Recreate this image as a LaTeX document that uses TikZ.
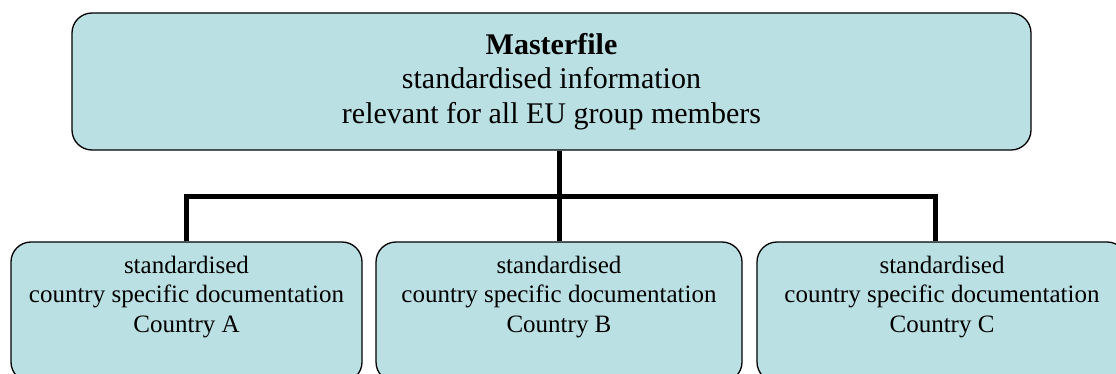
\documentclass[tikz,border=0pt]{standalone}
\usepackage{fontspec}
\setmainfont{Liberation Serif}
\usepackage{tikz}
\usetikzlibrary{arrows,shapes}
\definecolor{boxfill}{RGB}{186,224,227}
\tikzstyle{master} = [rectangle, rounded corners=20pt, minimum width=959pt, minimum height=137pt, align=center, draw=black, line width=1.3pt, fill=boxfill, font=\fontsize{30}{34.5}\selectfont]
\tikzstyle{country} = [rectangle, rounded corners=20pt, minimum width=360pt, inner sep=8pt, text height=82pt, text depth=42pt, align=center, draw=black, line width=1.3pt, fill=boxfill, font=\fontsize{25}{29.5}\selectfont]
\tikzstyle{wire} = [line width=5pt]

\begin{document}
\begin{tikzpicture}[x=1pt,y=-1pt,node distance=100pt]
\useasboundingbox (0,0) rectangle (1116,374);
\node (mf)   [master] at (551.5,81.5) {\textbf{Masterfile}\\standardised information\\relevant for all EU group members};
\node (ctyB) [country, minimum width=366pt, below of=mf, xshift=7.5pt, yshift=-130.5pt] {standardised\\country specific documentation\\Country B};
\node (ctyA) [country, minimum width=351pt, left of=ctyB, xshift=-272.5pt] {standardised\\country specific documentation\\Country A};
\node (ctyC) [country, minimum width=370pt, right of=ctyB, xshift=283pt] {standardised\\country specific documentation\\Country C};

\draw [wire] (mf.south -| ctyB.north) -- (ctyB.north);
\draw [wire] (ctyA.north) -- ++(0,-45) -| ([xshift=-7pt]ctyC.north);
\end{tikzpicture}
\end{document}
